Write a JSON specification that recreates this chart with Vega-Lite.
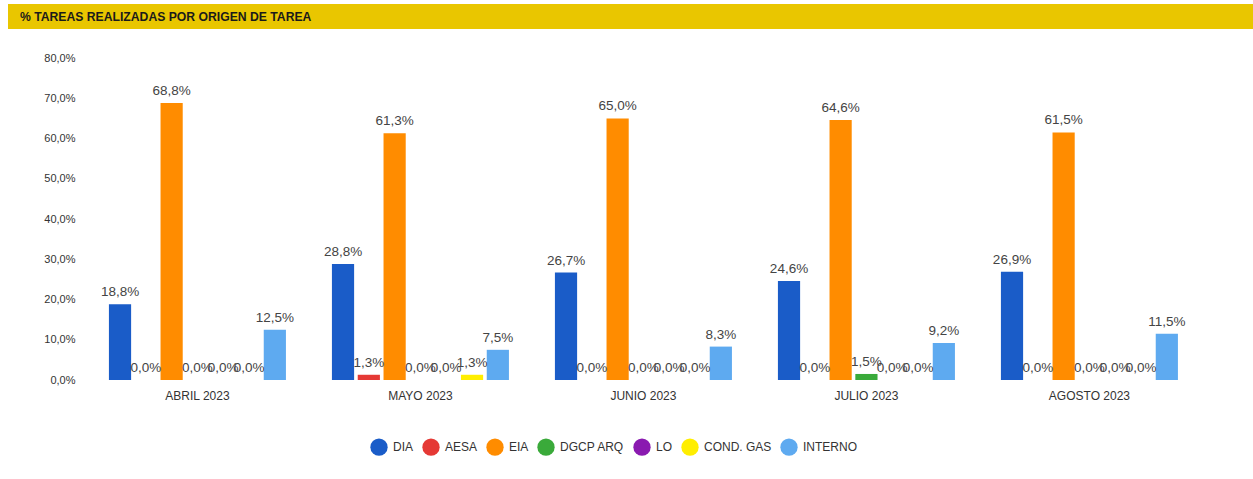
{
  "$schema": "https://vega.github.io/schema/vega-lite/v6.json",
  "background": "white",
  "padding": {"left": 8, "top": 4, "right": 0, "bottom": 0},
  "config": {
    "locale": {"number": {"decimal": ",", "thousands": ".", "grouping": [3], "currency": ["", " €"]}},
    "font": "Liberation Sans",
    "view": {"stroke": null}
  },
  "spacing": 23,
  "vconcat": [
    {
      "width": 1245,
      "height": 25,
      "view": {"fill": "#e9c600", "stroke": null},
      "data": {"values": [{"titulo": "% TAREAS REALIZADAS POR ORIGEN DE TAREA", "pos": 0}]},
      "mark": {"type": "text", "align": "left", "baseline": "middle", "dx": 12, "fontSize": 12.2, "fontWeight": "bold", "color": "#1a1a1a"},
      "encoding": {
        "x": {"field": "pos", "type": "quantitative", "scale": {"domain": [0, 1]}, "axis": null},
        "text": {"field": "titulo"}
      }
    },
    {
      "width": 1245,
      "height": 322,
      "data": {
        "values": [
          {"mes": "ABRIL 2023", "origen": "DIA", "pct": 0.188},
          {"mes": "ABRIL 2023", "origen": "AESA", "pct": 0},
          {"mes": "ABRIL 2023", "origen": "EIA", "pct": 0.688},
          {"mes": "ABRIL 2023", "origen": "DGCP ARQ", "pct": 0},
          {"mes": "ABRIL 2023", "origen": "LO", "pct": 0},
          {"mes": "ABRIL 2023", "origen": "COND. GAS", "pct": 0},
          {"mes": "ABRIL 2023", "origen": "INTERNO", "pct": 0.125},
          {"mes": "MAYO 2023", "origen": "DIA", "pct": 0.288},
          {"mes": "MAYO 2023", "origen": "AESA", "pct": 0.013},
          {"mes": "MAYO 2023", "origen": "EIA", "pct": 0.613},
          {"mes": "MAYO 2023", "origen": "DGCP ARQ", "pct": 0},
          {"mes": "MAYO 2023", "origen": "LO", "pct": 0},
          {"mes": "MAYO 2023", "origen": "COND. GAS", "pct": 0.013},
          {"mes": "MAYO 2023", "origen": "INTERNO", "pct": 0.075},
          {"mes": "JUNIO 2023", "origen": "DIA", "pct": 0.267},
          {"mes": "JUNIO 2023", "origen": "AESA", "pct": 0},
          {"mes": "JUNIO 2023", "origen": "EIA", "pct": 0.65},
          {"mes": "JUNIO 2023", "origen": "DGCP ARQ", "pct": 0},
          {"mes": "JUNIO 2023", "origen": "LO", "pct": 0},
          {"mes": "JUNIO 2023", "origen": "COND. GAS", "pct": 0},
          {"mes": "JUNIO 2023", "origen": "INTERNO", "pct": 0.083},
          {"mes": "JULIO 2023", "origen": "DIA", "pct": 0.246},
          {"mes": "JULIO 2023", "origen": "AESA", "pct": 0},
          {"mes": "JULIO 2023", "origen": "EIA", "pct": 0.646},
          {"mes": "JULIO 2023", "origen": "DGCP ARQ", "pct": 0.015},
          {"mes": "JULIO 2023", "origen": "LO", "pct": 0},
          {"mes": "JULIO 2023", "origen": "COND. GAS", "pct": 0},
          {"mes": "JULIO 2023", "origen": "INTERNO", "pct": 0.092},
          {"mes": "AGOSTO 2023", "origen": "DIA", "pct": 0.269},
          {"mes": "AGOSTO 2023", "origen": "AESA", "pct": 0},
          {"mes": "AGOSTO 2023", "origen": "EIA", "pct": 0.615},
          {"mes": "AGOSTO 2023", "origen": "DGCP ARQ", "pct": 0},
          {"mes": "AGOSTO 2023", "origen": "LO", "pct": 0},
          {"mes": "AGOSTO 2023", "origen": "COND. GAS", "pct": 0},
          {"mes": "AGOSTO 2023", "origen": "INTERNO", "pct": 0.115}
        ]
      },
      "encoding": {
        "x": {
          "field": "mes", "type": "nominal",
          "sort": ["ABRIL 2023", "MAYO 2023", "JUNIO 2023", "JULIO 2023", "AGOSTO 2023"],
          "scale": {"paddingInner": 0.19, "paddingOuter": 0.3865, "align": 0.575},
          "axis": {"title": null, "labelAngle": 0, "domain": false, "ticks": false, "labelPadding": 10, "labelFontSize": 12, "labelColor": "#333333"}
        },
        "xOffset": {
          "field": "origen", "type": "nominal",
          "sort": ["DIA", "AESA", "EIA", "DGCP ARQ", "LO", "COND. GAS", "INTERNO"],
          "scale": {"paddingInner": 0.14, "paddingOuter": 0.07}
        },
        "y": {
          "field": "pct", "type": "quantitative",
          "scale": {"domain": [0, 0.8]},
          "axis": {
            "title": null, "format": ".1%",
            "values": [0, 0.1, 0.2, 0.3, 0.4, 0.5, 0.6, 0.7, 0.8],
            "domain": false, "ticks": false, "grid": false,
            "offset": -67, "labelPadding": 0, "labelFontSize": 11, "labelColor": "#333333"
          }
        }
      },
      "layer": [
        {
          "mark": {"type": "bar"},
          "encoding": {
            "color": {
              "field": "origen", "type": "nominal",
              "scale": {
                "domain": ["DIA", "AESA", "EIA", "DGCP ARQ", "LO", "COND. GAS", "INTERNO"],
                "range": ["#1a5cc8", "#e53935", "#ff8c00", "#3aaa3a", "#8a1ab0", "#ffee00", "#5eaaf0"]
              },
              "legend": {
                "title": null, "orient": "none", "legendX": 362, "legendY": 434,
                "direction": "horizontal", "symbolType": "circle", "symbolSize": 300,
                "symbolStrokeWidth": 0, "labelFontSize": 12, "labelColor": "#333333",
                "columnPadding": 8, "labelOffset": 5
              }
            }
          }
        },
        {
          "mark": {"type": "text", "baseline": "middle", "dy": -12, "fontSize": 13.5, "color": "#444444"},
          "encoding": {"text": {"field": "pct", "type": "quantitative", "format": ".1%"}}
        }
      ]
    }
  ]
}
